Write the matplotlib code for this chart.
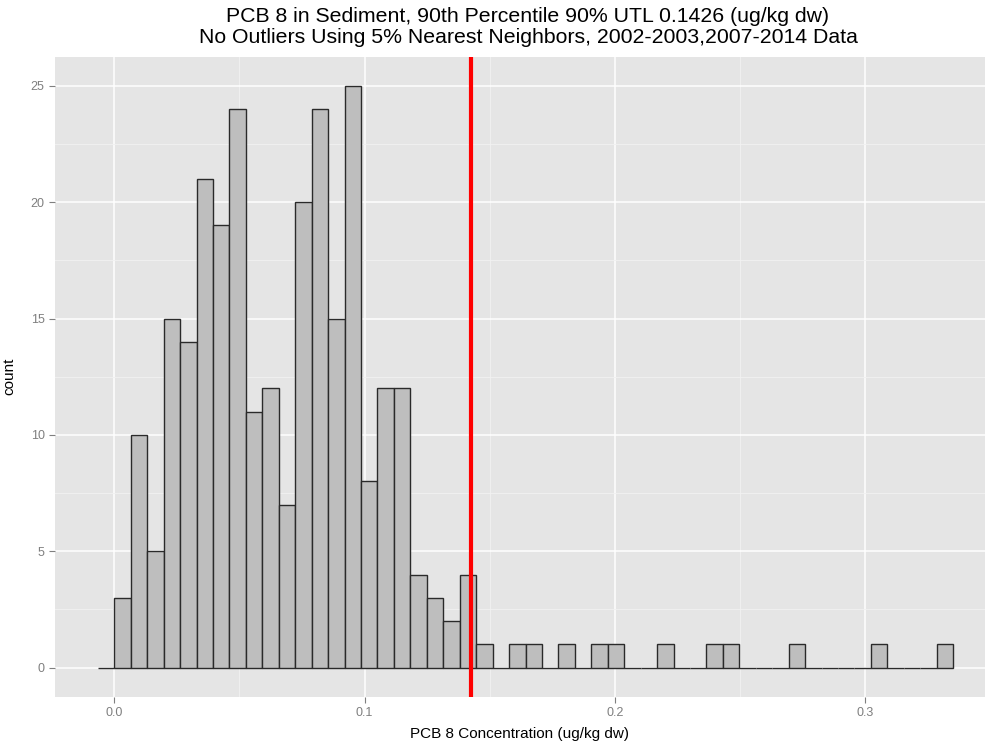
import matplotlib
matplotlib.use("Agg")
import matplotlib.pyplot as plt
import numpy as np

plt.rcParams['font.family'] = ['Liberation Sans', 'DejaVu Sans']

# Histogram data (bin k covers [bin_start + k*bin_width, bin_start + (k+1)*bin_width])
bin_start = -0.00657
bin_width = 0.00657
counts = [0,
          3, 10, 5, 15, 14, 21, 19, 24, 11, 12,
          7, 20, 24, 15, 25, 8, 12, 12, 4, 3,
          2, 4, 1, 0, 1, 1, 0, 1, 0, 1,
          1, 0, 0, 1, 0, 0, 1, 1, 0, 0,
          0, 1, 0, 0, 0, 0, 1, 0, 0, 0,
          1]
utl = 0.1426

title = ("PCB 8 in Sediment, 90th Percentile 90% UTL 0.1426 (ug/kg dw)\n"
         "No Outliers Using 5% Nearest Neighbors, 2002-2003,2007-2014 Data")
xlabel = "PCB 8 Concentration (ug/kg dw)"
ylabel = "count"
xticks = [0.0, 0.1, 0.2, 0.3]
xticklabels = ["0.0", "0.1", "0.2", "0.3"]
yticks = [0, 5, 10, 15, 20, 25]

fig = plt.figure(figsize=(9.85, 7.45), dpi=100)
ax = fig.add_axes([55/985, (745-696.7)/745, (985-55)/985, (696.7-56.7)/745])
ax.set_facecolor('#E5E5E5')

edges = bin_start + bin_width*np.arange(len(counts))
ax.bar(edges, counts, width=bin_width, align='edge', color='#BEBEBE',
       edgecolor='#2A2A2A', linewidth=1.0, zorder=3)

ax.axvline(utl, color='#FF0000', linewidth=3.0, zorder=4)

ax.set_xlim(-0.0237, 0.3478)
ax.set_ylim(-1.25, 26.25)

ax.set_xticks(xticks)
ax.set_xticklabels(xticklabels)
ax.set_yticks(yticks)
ax.set_xticks([0.05, 0.15, 0.25], minor=True)
ax.set_yticks([2.5, 7.5, 12.5, 17.5, 22.5], minor=True)
ax.grid(which='major', color='white', linewidth=1.1, zorder=1)
ax.grid(which='minor', color='#F2F2F2', linewidth=0.6, zorder=1)
ax.set_axisbelow(True)
for s in ax.spines.values():
    s.set_visible(False)
ax.tick_params(which='major', length=4.5, width=0.8, color='#7F7F7F',
               labelcolor='#7F7F7F', labelsize=9, pad=3)
ax.tick_params(which='minor', length=0)

ax.set_xlabel(xlabel, fontsize=11, labelpad=6)
ax.set_ylabel(ylabel, fontsize=11, labelpad=10)
fig.text(528/985, 1 - 27/745, title, ha='center', va='center',
         fontsize=15.3, linespacing=1.1)

fig.savefig('out.png', dpi=100)
